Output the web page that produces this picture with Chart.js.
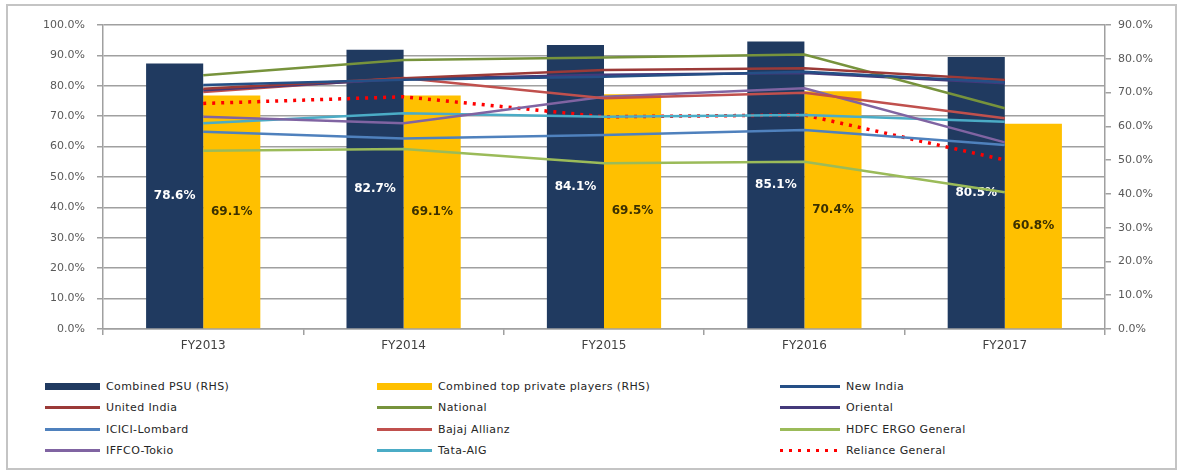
<!DOCTYPE html>
<html>
<head>
<meta charset="utf-8">
<script src="https://cdn.jsdelivr.net/npm/chart.js@4/dist/chart.umd.min.js"></script>
<style>
  body { margin: 0; background: #fff; }
  #wrap { position: relative; width: 1181px; height: 473px; }
  #chartBox { position: absolute; left: 0; top: 0; width: 1181px; height: 365px; }
  #frame { position: absolute; left: 6px; top: 4px; width: 1167px; height: 462px; border: 2px solid #c4c4c4; pointer-events: none; }
  #legend { position: absolute; left: 0; top: 376px; width: 1181px; font: 11px "DejaVu Sans", sans-serif; color: #262626; letter-spacing: 0.4px; }
  .item { position: absolute; height: 20px; display: flex; align-items: center; white-space: nowrap; }
  .sw { display: inline-block; margin-right: 6px; }
</style>
</head>
<body>
<div id="wrap">
  <div id="chartBox"><canvas id="ratio-chart"></canvas></div>
  <div id="legend"></div>
  <div id="frame"></div>
</div>
<script>
const categories = ["FY2013", "FY2014", "FY2015", "FY2016", "FY2017"];

// bars, right hand scale
const psuCombined = [78.6, 82.7, 84.1, 85.1, 80.5];
const privateCombined = [69.1, 69.1, 69.5, 70.4, 60.8];

// lines, left hand scale
const newIndia = [80.3, 82.0, 83.0, 84.6, 81.2];
const unitedIndia = [79.0, 82.5, 85.2, 85.8, 81.9];
const national = [83.5, 88.5, 89.3, 90.3, 72.6];
const oriental = [78.5, 82.2, 83.6, 84.2, 80.8];
const iciciLombard = [64.9, 62.7, 63.8, 65.5, 60.5];
const bajajAllianz = [78.0, 82.6, 75.9, 77.7, 69.3];
const hdfcErgo = [58.6, 59.2, 54.5, 55.0, 45.0];
const iffcoTokio = [69.8, 67.7, 76.4, 79.2, 61.4];
const tataAig = [67.7, 71.0, 69.8, 70.4, 68.2];
const relianceGeneral = [74.2, 76.4, 69.8, 70.4, 55.6];

const leftTicks = [0, 10, 20, 30, 40, 50, 60, 70, 80, 90, 100];
const rightTicks = [0, 10, 20, 30, 40, 50, 60, 70, 80, 90];

const gridColor = "#a0a0a0";
const tickFont = { family: "DejaVu Sans", size: 11 };

function bar(label, data, color, textColor) {
    return {
        type: "bar",
        label,
        data,
        backgroundColor: color,
        yAxisID: "y1",
        order: 1,
        categoryPercentage: 0.57,
        barPercentage: 1,
        textColor,
    };
}

function line(label, data, color, dash) {
    return {
        type: "line",
        label,
        data,
        borderColor: color,
        backgroundColor: color,
        borderWidth: dash ? 3.5 : 2.5,
        borderDash: dash || [],
        pointRadius: 0,
        tension: 0,
        fill: false,
        yAxisID: "y",
        order: 0,
    };
}

const datasets = [
    bar("Combined PSU (RHS)", psuCombined, "#203a60", "#ffffff"),
    bar("Combined top private players (RHS)", privateCombined, "#ffc000", "#3b3000"),
    line("New India", newIndia, "#254f86"),
    line("United India", unitedIndia, "#9b3a38"),
    line("National", national, "#77933c"),
    line("Oriental", oriental, "#44397a"),
    line("ICICI-Lombard", iciciLombard, "#4f81bd"),
    line("Bajaj Allianz", bajajAllianz, "#c0504d"),
    line("HDFC ERGO General", hdfcErgo, "#9bbb59"),
    line("IFFCO-Tokio", iffcoTokio, "#8064a2"),
    line("Tata-AIG", tataAig, "#4bacc6"),
    line("Reliance General", relianceGeneral, "#ff0000", [3, 6]),
];

// value labels in the middle of each bar
const barLabels = {
    id: "barLabels",
    afterDatasetDraw(chart, args) {
        const ds = chart.data.datasets[args.index];
        if (ds.type !== "bar") return;
        const ctx = chart.ctx;
        ctx.save();
        ctx.font = '600 12px "DejaVu Sans"';
        ctx.fillStyle = ds.textColor;
        ctx.textAlign = "center";
        ctx.textBaseline = "middle";
        args.meta.data.forEach((el, i) => {
            const p = el.getProps(["x", "y", "base"], true);
            ctx.fillText(ds.data[i].toFixed(1) + "%", p.x, (p.y + p.base) / 2);
        });
        ctx.restore();
    },
};

const config = {
    data: { labels: categories, datasets },
    options: {
        responsive: true,
        maintainAspectRatio: false,
        animation: false,
        layout: { padding: { top: 25, left: 0, right: 0, bottom: 0 } },
        plugins: { legend: { display: false }, tooltip: { enabled: false } },
        scales: {
            x: {
                offset: true,
                grid: { offset: true, drawOnChartArea: false, color: gridColor, tickLength: 6, lineWidth: 1.5 },
                border: { color: gridColor, width: 1.5 },
                ticks: { color: "#404040", font: { family: "DejaVu Sans", size: 12 }, padding: 4 },
                afterFit: (s) => { s.height = 36; },
            },
            y: {
                position: "left",
                min: 0,
                max: 100,
                afterBuildTicks: (s) => { s.ticks = leftTicks.map((v) => ({ value: v })); },
                grid: { color: gridColor, tickLength: 6, lineWidth: 1.5 },
                border: { color: gridColor, width: 1.5 },
                ticks: { color: "#595959", font: tickFont, padding: 12, callback: (v) => v.toFixed(1) + "%" },
                afterFit: (s) => { s.width = 103; },
            },
            y1: {
                position: "right",
                min: 0,
                max: 90,
                afterBuildTicks: (s) => { s.ticks = rightTicks.map((v) => ({ value: v })); },
                grid: { drawOnChartArea: false, color: gridColor, tickLength: 6, lineWidth: 1.5 },
                border: { color: gridColor, width: 1.5 },
                ticks: { color: "#595959", font: tickFont, padding: 7, callback: (v) => v.toFixed(1) + "%" },
                afterFit: (s) => { s.width = 76; },
            },
        },
    },
    plugins: [barLabels],
};

new Chart(document.getElementById("ratio-chart"), config);

// legend: 3 columns, 4 rows
const colX = [45, 377, 780];
const legend = document.getElementById("legend");
datasets.forEach((ds, i) => {
    const item = document.createElement("div");
    item.className = "item";
    item.style.left = colX[i % 3] + "px";
    item.style.top = Math.floor(i / 3) * 21.5 + "px";
    const sw = document.createElement("span");
    sw.className = "sw";
    sw.style.width = (i % 3 === 2 ? 60 : 55) + "px";
    if (ds.type === "bar") {
        sw.style.height = "7px";
        sw.style.background = ds.backgroundColor;
    } else if (ds.borderDash.length) {
        sw.style.height = "3px";
        sw.style.background = "repeating-linear-gradient(90deg, " + ds.borderColor + " 0 3px, transparent 3px 9px)";
    } else {
        sw.style.height = "3px";
        sw.style.background = ds.borderColor;
    }
    item.appendChild(sw);
    item.appendChild(document.createTextNode(ds.label));
    legend.appendChild(item);
});
</script>
</body>
</html>
